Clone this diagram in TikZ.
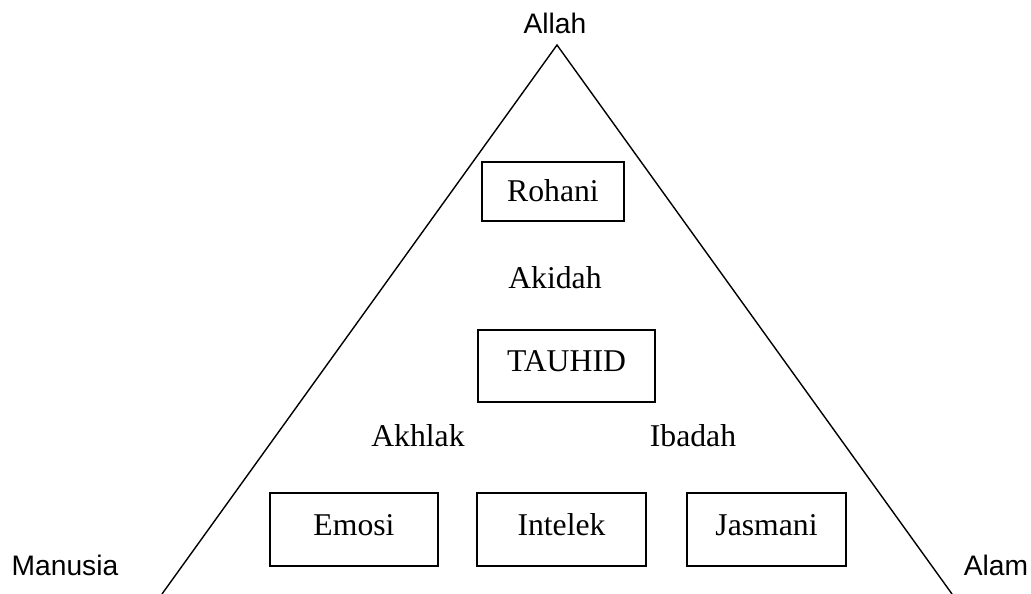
\documentclass[tikz,border=0pt]{standalone}
\usepackage{fontspec}
\setmainfont{Liberation Serif}
\newfontfamily\arialf{Liberation Sans}
\begin{document}
\begin{tikzpicture}[x=1pt,y=-1pt,
  box/.style={draw, line width=1.8pt, inner sep=0pt, font=\fontsize{31.7}{38}\selectfont, text height=22.2pt, text depth=11.2pt},
  word/.style={inner sep=0pt, anchor=base, font=\fontsize{31.7}{38}\selectfont},
  sans/.style={inner sep=0pt, anchor=base, font=\arialf\fontsize{28.2}{34}\selectfont},
  side/.style={line width=1.4pt}]
\useasboundingbox (0,0) rectangle (1031,594);
\coordinate (apex) at (557,45);
\coordinate (bl) at (162,594);
\coordinate (br) at (952,594);
\draw[side] (bl) -- (apex) -- (br);
\node[sans] (allah) at (555,34) {Allah};
\node[sans] (manusia) at (65,575) {Manusia};
\node[sans] (alam) at (996,575) {Alam};
\node[box, minimum width=142pt, minimum height=59pt, text depth=2.2pt] (rohani) at (553,191.5) {Rohani};
\node[word] (akidah) at (555,288) {Akidah};
\node[box, minimum width=177pt, minimum height=72pt] (tauhid) at (566.5,366) {TAUHID};
\node[word] (akhlak) at (418,446) {Akhlak};
\node[word] (ibadah) at (693,446) {Ibadah};
\node[box, minimum width=168pt, minimum height=73pt] (emosi) at (354,529.5) {Emosi};
\node[box, minimum width=169pt, minimum height=73pt] (intelek) at (561.5,529.5) {Intelek};
\node[box, minimum width=159pt, minimum height=73pt] (jasmani) at (766.5,529.5) {Jasmani};
\end{tikzpicture}
\end{document}
